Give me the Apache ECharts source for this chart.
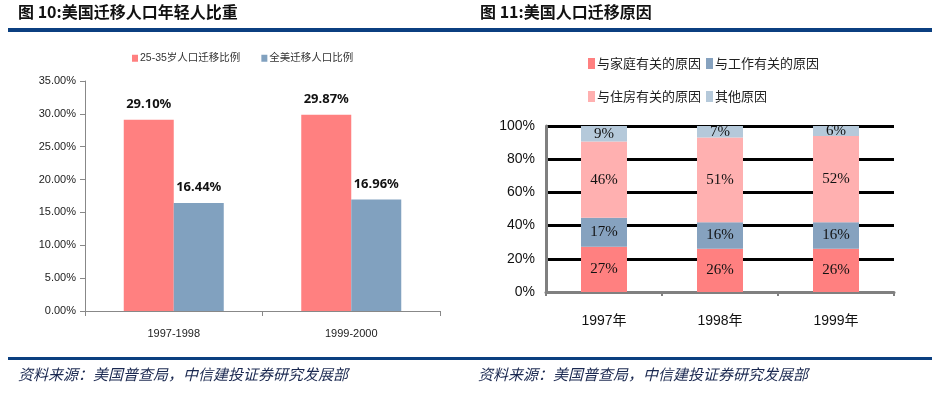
<!DOCTYPE html>
<html><head><meta charset="utf-8">
<script src="https://cdn.jsdelivr.net/npm/echarts@6/dist/echarts.min.js"></script>
<style>html,body{margin:0;padding:0;background:#fff}#c{width:934px;height:393px}</style>
</head><body><div id="c"></div>
<script>
// Chart 1 data
const periods = ['1997-1998', '1999-2000'];
const youngShare = [0.2910, 0.2987];   // 25-35岁人口迁移比例
const allShare = [0.1644, 0.1696];     // 全美迁移人口比例
const yTicks1 = [0, 0.05, 0.10, 0.15, 0.20, 0.25, 0.30, 0.35];

// Chart 2 data (segment heights; labels rounded)
const years = ['1997年', '1998年', '1999年'];
const familyReason = [27.3, 26, 26];
const workReason = [17.4, 16, 16];
const housingReason = [46.0, 51, 52];
const otherReason = [9.3, 7, 6];

const narrow = "'Liberation Sans Narrow','Liberation Sans','Noto Sans CJK SC',sans-serif";
const cjk = "'Noto Sans CJK SC',sans-serif";
const serif = "'Liberation Serif','Noto Sans CJK SC',serif";
const pct = p => Math.round(p.value) + '%';

const chart = echarts.init(document.getElementById('c'));
chart.setOption({
  animation: false,
  graphic: [
    {type:'text', left:18, top:4, style:{text:'图 10:美国迁移人口年轻人比重', font:"bold 16px 'Noto Sans CJK SC',sans-serif", fill:'#111'}},
    {type:'text', left:480, top:4, style:{text:'图 11:美国人口迁移原因', font:"bold 16px 'Noto Sans CJK SC',sans-serif", fill:'#111'}},
    {type:'rect', shape:{x:8, y:28, width:924, height:4}, style:{fill:'#0b3f80'}},
    {type:'rect', shape:{x:8, y:357, width:924, height:3}, style:{fill:'#0b3f80'}},
    {type:'text', left:18, top:367, style:{text:'资料来源：美国普查局，中信建投证券研究发展部', font:"italic 15px 'Noto Sans CJK SC',sans-serif", fill:'#1a2850'}},
    {type:'text', left:478, top:367, style:{text:'资料来源：美国普查局，中信建投证券研究发展部', font:"italic 15px 'Noto Sans CJK SC',sans-serif", fill:'#1a2850'}}
  ],
  legend: [
    {left:127, top:48, itemWidth:6, itemHeight:7, itemGap:21, icon:'rect',
     textStyle:{fontSize:10.5, fontFamily:narrow, color:'#333', padding:[0,0,0,-3]},
     data:['25-35岁人口迁移比例','全美迁移人口比例']},
    {left:583, top:52, itemWidth:7, itemHeight:11, itemGap:5, icon:'rect',
     textStyle:{fontSize:13, fontFamily:cjk, color:'#222', padding:[0,0,0,-3]},
     data:['与家庭有关的原因','与工作有关的原因']},
    {left:583, top:85, itemWidth:7, itemHeight:11, itemGap:5, icon:'rect',
     textStyle:{fontSize:13, fontFamily:cjk, color:'#222', padding:[0,0,0,-3]},
     data:['与住房有关的原因','其他原因']}
  ],
  grid: [
    {left:85, top:81, width:355, height:230},
    {left:546, top:126, width:348, height:166}
  ],
  xAxis: [
    {type:'category', gridIndex:0, data:periods,
     axisLine:{lineStyle:{color:'#888', width:1}},
     axisTick:{show:true, length:5, lineStyle:{color:'#888'}},
     axisLabel:{fontSize:11, fontFamily:narrow, color:'#222', margin:17}},
    {type:'category', gridIndex:1, data:years,
     axisLine:{lineStyle:{color:'#808080', width:3}},
     axisTick:{show:true, length:4, lineStyle:{color:'#808080', width:2}},
     axisLabel:{fontSize:14, fontFamily:narrow, color:'#111', margin:22}}
  ],
  yAxis: [
    {type:'value', gridIndex:0, min:0, max:0.35, interval:0.05,
     axisLine:{show:true, lineStyle:{color:'#888'}},
     axisTick:{show:true, length:5, lineStyle:{color:'#888'}},
     splitLine:{show:false},
     axisLabel:{fontSize:11, fontFamily:narrow, color:'#222', margin:9,
       formatter:v => (v*100).toFixed(2) + '%'}},
    {type:'value', gridIndex:1, min:0, max:100, interval:20,
     axisLine:{show:true, lineStyle:{color:'#808080', width:3}},
     axisTick:{show:false},
     splitLine:{show:true, lineStyle:{color:'#000', width:3}},
     axisLabel:{fontSize:14, fontFamily:narrow, color:'#111', margin:11, formatter:'{value}%'}}
  ],
  series: [
    {name:'25-35岁人口迁移比例', type:'bar', xAxisIndex:0, yAxisIndex:0, data:youngShare,
     barWidth:50, barGap:'0%', itemStyle:{color:'#ff8080'},
     label:{show:true, position:'top', distance:9, fontSize:13, fontWeight:'bold', fontFamily:"'Noto Sans',sans-serif", color:'#111',
       formatter:p => (p.value*100).toFixed(2) + '%'}},
    {name:'全美迁移人口比例', type:'bar', xAxisIndex:0, yAxisIndex:0, data:allShare,
     barWidth:50, barGap:'0%', itemStyle:{color:'#81a1bf'},
     label:{show:true, position:'top', distance:9, fontSize:13, fontWeight:'bold', fontFamily:"'Noto Sans',sans-serif", color:'#111',
       formatter:p => (p.value*100).toFixed(2) + '%'}},
    {name:'与家庭有关的原因', type:'bar', stack:'r', xAxisIndex:1, yAxisIndex:1, data:familyReason, barWidth:46,
     itemStyle:{color:'#ff8080'}, label:{show:true, position:'inside', fontSize:15, fontFamily:serif, color:'#111', formatter:pct}},
    {name:'与工作有关的原因', type:'bar', stack:'r', xAxisIndex:1, yAxisIndex:1, data:workReason, barWidth:46,
     itemStyle:{color:'#86a2bf'}, label:{show:true, position:'inside', fontSize:15, fontFamily:serif, color:'#111', formatter:pct}},
    {name:'与住房有关的原因', type:'bar', stack:'r', xAxisIndex:1, yAxisIndex:1, data:housingReason, barWidth:46,
     itemStyle:{color:'#ffb0b0'}, label:{show:true, position:'inside', fontSize:15, fontFamily:serif, color:'#111', formatter:pct}},
    {name:'其他原因', type:'bar', stack:'r', xAxisIndex:1, yAxisIndex:1, data:otherReason, barWidth:46,
     itemStyle:{color:'#b5c9da'}, label:{show:true, position:'inside', fontSize:15, fontFamily:serif, color:'#111', formatter:pct}}
  ]
});
</script></body></html>
